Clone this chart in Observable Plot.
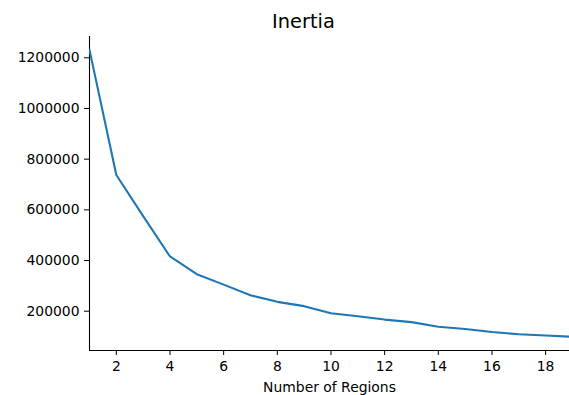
<!DOCTYPE html>
<html>
<head>
<meta charset="utf-8">
<script src="https://cdn.jsdelivr.net/npm/d3@7"></script>
<script src="https://cdn.jsdelivr.net/npm/@observablehq/plot@0.6"></script>
<style>
  html, body { margin: 0; padding: 0; background: #fff; overflow: hidden; }
</style>
</head>
<body>
<div id="chart"></div>
<script>
const regions = [1, 2, 3, 4, 5, 6, 7, 8, 9, 10, 11, 12, 13, 14, 15, 16, 17, 18, 19];
const inertia = [1231000, 737500, 575000, 416000, 346000, 305000, 263000, 237000, 220000, 192000, 180000, 167000, 157000, 139000, 130000, 118000, 109000, 104000, 99000];
const xTicks = [2, 4, 6, 8, 10, 12, 14, 16, 18];
const yTicks = [200000, 400000, 600000, 800000, 1000000, 1200000];
const titleText = "Inertia";
const xLabel = "Number of Regions";

const data = regions.map((r, i) => ({regions: r, inertia: inertia[i]}));
const xDomain = [1, 18.89];
const yDomain = [45000, 1284000];

const chart = Plot.plot({
  width: 569,
  height: 395,
  marginLeft: 89,
  marginRight: 0,
  marginTop: 36,
  marginBottom: 45,
  style: {fontFamily: "DejaVu Sans", fontSize: "13.9px", color: "#000", background: "#fff", overflow: "hidden"},
  x: {domain: xDomain},
  y: {domain: yDomain},
  marks: [
    Plot.axisX({ticks: xTicks, tickSize: 5, tickPadding: 6, label: null, tickFormat: d3.format("d"), fontSize: 13.9}),
    Plot.axisY({ticks: yTicks, tickSize: 5, tickPadding: 5, label: null, tickFormat: d3.format("d"), fontSize: 13.9}),
    Plot.ruleX([xDomain[0]], {stroke: "#000", strokeWidth: 1.1}),
    Plot.ruleY([yDomain[0]], {stroke: "#000", strokeWidth: 1.1}),
    Plot.line(data, {x: "regions", y: "inertia", stroke: "#1f77b4", strokeWidth: 2.1, clip: true}),
    Plot.text([titleText], {frameAnchor: "top", lineAnchor: "bottom", dy: -9, dx: -26, fontSize: 19.4, fill: "#000"}),
    Plot.text([xLabel], {frameAnchor: "bottom", lineAnchor: "bottom", dy: 41, fontSize: 13.9, fill: "#000"})
  ]
});
document.getElementById("chart").appendChild(chart);
</script>
</body>
</html>
